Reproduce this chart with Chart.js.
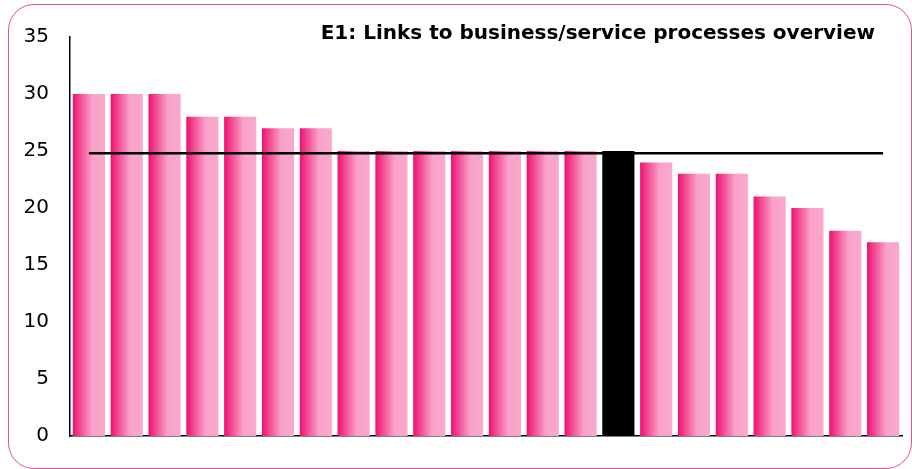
<!DOCTYPE html>
<html lang="en">
  <head>
    <meta charset="UTF-8" />
    <title>E1: Links to business/service processes overview</title>
    <style>
      html, body { margin: 0; padding: 0; background: #fff; }
      .frame {
        position: absolute;
        left: 8px;
        top: 4px;
        width: 902px;
        height: 463px;
        border: 1px solid #e0559a;
        border-radius: 26px;
      }
      .wrap { position: absolute; left: 0; top: 0; width: 912px; height: 469px; }
    </style>
  </head>
  <body>
    <div class="frame"></div>
    <div class="wrap"><canvas id="myChart" width="912" height="469"></canvas></div>

    <script src="https://cdn.jsdelivr.net/npm/chart.js@4/dist/chart.umd.min.js"></script>

    <!--Chart data-->
    <script>
      var labels = ["A", "B", "C", "D", "E", "F", "G", "H", "I", "J", "K",
                    "L", "M", "N", "O", "P", "Q", "R", "S", "T", "U", "V"];
      var scores = [30, 30, 30, 28, 28, 27, 27, 25, 25, 25, 25,
                    25, 25, 25, 25, 24, 23, 23, 21, 20, 18, 17];
      var highlightIndex = 14;
      var average = 24.8;
      var yTicks = [0, 5, 10, 15, 20, 25, 30, 35];
      var chartTitle = "E1: Links to business/service processes overview";
    </script>

    <script>
      // pink left-to-right gradient for each bar, black for the highlighted one
      function barColor(ctx) {
        var chart = ctx.chart;
        if (ctx.dataIndex === highlightIndex) return "#000000";
        var xs = chart.scales.x;
        if (!chart.chartArea || !xs) return "#f27aae";
        var center = xs.getPixelForValue(ctx.dataIndex);
        var w = (xs.width / labels.length) * 0.85;
        var g = chart.ctx.createLinearGradient(center - w / 2, 0, center + w / 2, 0);
        g.addColorStop(0, "#ee1170");
        g.addColorStop(0.6, "#f9a2c9");
        g.addColorStop(1, "#faa9cd");
        return g;
      }

      var titlePlugin = {
        id: "cornerTitle",
        afterDraw: function (chart) {
          var c = chart.ctx;
          c.save();
          c.font = "bold 20px 'DejaVu Sans', Verdana, sans-serif";
          c.fillStyle = "#000";
          c.textAlign = "right";
          c.textBaseline = "middle";
          c.fillText(chartTitle, 875, 34);
          c.restore();
        },
      };

      var ctx = document.getElementById("myChart").getContext("2d");
      var myChart = new Chart(ctx, {
        data: {
          labels: labels,
          datasets: [
            {
              type: "line",
              data: labels.map(function () { return average; }),
              borderColor: "#000",
              borderWidth: 2.5,
              pointRadius: 0,
              order: 0,
            },
            {
              type: "bar",
              data: scores,
              backgroundColor: barColor,
              borderWidth: 0,
              barPercentage: 0.85,
              categoryPercentage: 1,
              order: 1,
            },
          ],
        },
        options: {
          responsive: false,
          animation: false,
          layout: { padding: { top: 37, right: 10, bottom: 33, left: 0 } },
          plugins: { legend: { display: false }, tooltip: { enabled: false } },
          scales: {
            x: {
              grid: { display: false, drawTicks: false },
              border: { color: "#000", width: 1.5 },
              ticks: { display: false },
              afterFit: function (s) { s.height = 0; },
            },
            y: {
              min: 0,
              max: 35,
              afterBuildTicks: function (s) {
                s.ticks = yTicks.map(function (v) { return { value: v }; });
              },
              grid: { display: false, drawTicks: true, tickLength: 7, tickColor: "#000" },
              border: { color: "#000", width: 1.5 },
              ticks: {
                color: "#000",
                padding: 14,
                font: { family: "'DejaVu Sans', Verdana, sans-serif", size: 20 },
              },
              afterFit: function (s) { s.width = 70; },
            },
          },
        },
        plugins: [titlePlugin],
      });
    </script>
  </body>
</html>
